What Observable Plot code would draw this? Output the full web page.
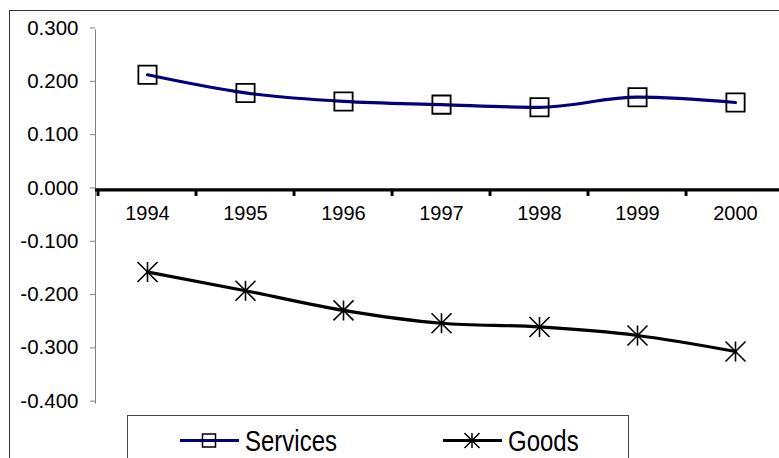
<!DOCTYPE html>
<html>
<head>
<meta charset="utf-8">
<script src="https://cdn.jsdelivr.net/npm/d3@7"></script>
<script src="https://cdn.jsdelivr.net/npm/@observablehq/plot@0.6"></script>
<style>
  html, body { margin: 0; padding: 0; background: #fff; }
  #wrap { position: relative; width: 779px; height: 458px; overflow: hidden; background: #fff;
          font-family: "Liberation Sans", Arial, sans-serif; }
  #border { position: absolute; left: 9px; top: 10px; width: 900px; height: 600px;
            border-left: 1.5px solid #333; border-top: 1.5px solid #333; pointer-events: none; }
  #chart { position: absolute; left: 0; top: 0; }
  #legend { position: absolute; left: 127px; top: 415px; width: 500px; height: 80px;
            border: 1px solid #444; background: #fff; }
</style>
</head>
<body>
<div id="wrap">
  <div id="border"></div>
  <div id="chart"></div>
  <div id="legend"></div>
</div>
<script>
// ---- data ----
const years = ["1994", "1995", "1996", "1997", "1998", "1999", "2000"];
const servicesValues = [0.216, 0.182, 0.166, 0.160, 0.155, 0.174, 0.164];
const goodsValues = [-0.154, -0.189, -0.226, -0.250, -0.257, -0.273, -0.303];
const yTicks = [-0.4, -0.3, -0.2, -0.1, 0, 0.1, 0.2, 0.3];
const seriesNames = ["Services", "Goods"];

const services = years.map((y, i) => ({year: y, value: servicesValues[i]}));
const goods = years.map((y, i) => ({year: y, value: goodsValues[i]}));

// custom Excel-like asterisk: vertical bar + X
const asteriskX = {
  draw(ctx, size) {
    const r = Math.sqrt(size / Math.PI);
    ctx.moveTo(0, -r); ctx.lineTo(0, r);
    ctx.moveTo(-r, -r); ctx.lineTo(r, r);
    ctx.moveTo(-r, r); ctx.lineTo(r, -r);
  }
};

const W = 779, H = 416;
const xRange = [95, 787.5];
const bw = (xRange[1] - xRange[0]) / years.length;
const yRange = [402.7, 29.5];
const pxPerUnit = (yRange[0] - yRange[1]) / 0.7;

const chart = Plot.plot({
  width: W,
  height: H,
  marginLeft: 95,
  marginRight: 0,
  marginTop: yRange[1],
  marginBottom: H - yRange[0],
  style: {fontFamily: "'Liberation Sans', Arial, sans-serif", background: "transparent", overflow: "visible"},
  x: {type: "band", domain: years, range: xRange, padding: 0, axis: null},
  y: {domain: [-0.4, 0.3], range: yRange, axis: null},
  marks: [
    Plot.frame({anchor: "left", stroke: "#808080", strokeWidth: 1}),
    Plot.axisY({ticks: yTicks, tickFormat: d => d.toFixed(3), tickSize: 5, tickPadding: 12, label: null,
                stroke: "#808080", fill: "black", fontSize: 20.5, dy: -2}),
    Plot.ruleY([0], {stroke: "black", strokeWidth: 3.2}),
    Plot.ruleX(years, {x: d => d, dx: -bw / 2, y1: 0, y2: -6.5 / pxPerUnit, stroke: "black", strokeWidth: 3}),
    Plot.text(years, {x: d => d, y: 0, dy: 24, text: d => d, fontSize: 20, fill: "black"}),
    Plot.line(services, {x: "year", y: "value", stroke: "#000080", strokeWidth: 3.2, curve: "monotone-x"}),
    Plot.dot(services, {x: "year", y: "value", symbol: "square", r: 10.3, stroke: "black", strokeWidth: 1.8, fill: "none"}),
    Plot.line(goods, {x: "year", y: "value", stroke: "black", strokeWidth: 3.2, curve: "monotone-x"}),
    Plot.dot(goods, {x: "year", y: "value", symbol: asteriskX, r: 10, stroke: "black", strokeWidth: 1.6, fill: "none"})
  ]
});
document.getElementById("chart").appendChild(chart);

// ---- legend ----
const lg = d3.select("#legend").append("svg").attr("width", 500).attr("height", 80)
  .style("position", "absolute").style("left", "0").style("top", "0");
const items = [
  {name: seriesNames[0], color: "#000080", x0: 52, marker: "square", tx: 117},
  {name: seriesNames[1], color: "black", x0: 315, marker: "asterisk", tx: 380}
];
for (const it of items) {
  const cy = 24.5;
  lg.append("line").attr("x1", it.x0).attr("x2", it.x0 + 59).attr("y1", cy).attr("y2", cy)
    .attr("stroke", it.color).attr("stroke-width", 3.2);
  const cx = it.x0 + 29;
  if (it.marker === "square") {
    lg.append("rect").attr("x", cx - 6.5).attr("y", cy - 6.5).attr("width", 13).attr("height", 13)
      .attr("fill", "none").attr("stroke", "black").attr("stroke-width", 1.5);
  } else {
    const r = 7.5;
    lg.append("path").attr("transform", `translate(${cx},${cy})`)
      .attr("d", `M0,${-r}L0,${r}M${-r},${-r}L${r},${r}M${-r},${r}L${r},${-r}`)
      .attr("stroke", "black").attr("stroke-width", 1.5).attr("fill", "none");
  }
  lg.append("text").attr("transform", `translate(${it.tx},${cy + 10.5}) scale(1,1.2)`).text(it.name)
    .attr("font-size", 24).attr("fill", "black")
    .attr("font-family", "'Liberation Sans', Arial, sans-serif");
}
</script>
</body>
</html>
